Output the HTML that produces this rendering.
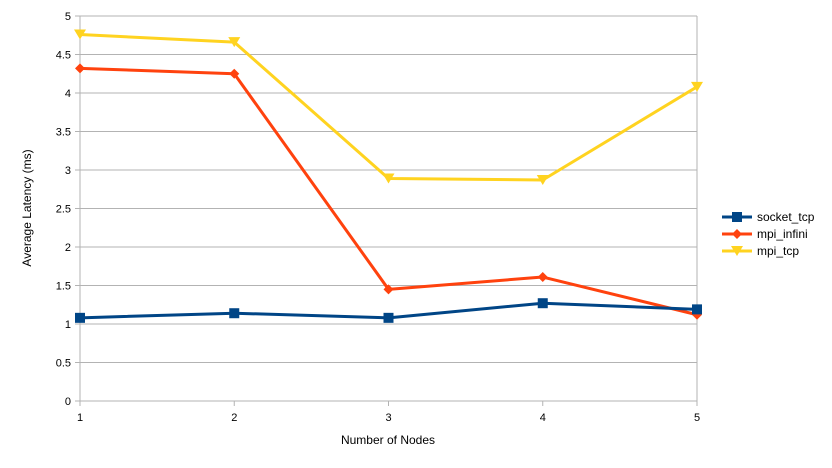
<!DOCTYPE html>
<html><head><meta charset="utf-8"><style>
body{margin:0;background:#fff}
svg{display:block;font-family:"Liberation Sans",sans-serif}
</style></head><body>
<svg id="chart" width="832" height="468" xmlns="http://www.w3.org/2000/svg">
<g id="grid"></g><g id="axes"></g><g id="series"></g><g id="legend"></g>
<text transform="translate(31,208) rotate(-90)" text-anchor="middle" font-size="12" fill="#000">Average Latency (ms)</text>
<text x="388" y="444" text-anchor="middle" font-size="12" fill="#000">Number of Nodes</text>
</svg>
<script>
const categories=[1,2,3,4,5];
const socketTcp=[1.08,1.14,1.08,1.27,1.19];
const mpiInfini=[4.32,4.25,1.45,1.61,1.12];
const mpiTcp=[4.76,4.66,2.89,2.87,4.08];
const yTicks=[0,0.5,1,1.5,2,2.5,3,3.5,4,4.5,5];
const seriesNames=["socket_tcp","mpi_infini","mpi_tcp"];
const NS="http://www.w3.org/2000/svg";
const L=80,R=697,T=16,B=401;
const x=i=>L+(R-L)*i/(categories.length-1);
const y=v=>B-(B-T)*v/5;
function mk(tag,attrs,parent){const e=document.createElementNS(NS,tag);for(const k in attrs)e.setAttribute(k,attrs[k]);parent.appendChild(e);return e;}
const grid=document.getElementById('grid'),axes=document.getElementById('axes'),ser=document.getElementById('series'),leg=document.getElementById('legend');
yTicks.forEach(t=>{
 const l=mk('line',{x1:L-5,x2:R,y1:y(t),y2:y(t),stroke:'#b3b3b3','stroke-width':1},grid);
 
 
 const tx=mk('text',{x:L-9,y:y(t)+4,'text-anchor':'end','font-size':11,fill:'#000'},axes);
 tx.textContent=String(t);
 
 
});
mk('line',{x1:L,x2:L,y1:T,y2:B+5,stroke:'#b3b3b3'},axes);
mk('line',{x1:R,x2:R,y1:T,y2:B+5,stroke:'#b3b3b3'},axes);
categories.forEach((c,i)=>{
 mk('line',{x1:x(i),x2:x(i),y1:B,y2:B+5,stroke:'#b3b3b3'},axes);
 const tx=mk('text',{x:x(i),y:B+20,'text-anchor':'middle','font-size':11,fill:'#000'},axes);
 tx.textContent=String(c);
 
 
});
function marker(kind,cx,cy,color,parent){
 let e;
 if(kind==='sq')e=mk('rect',{x:cx-5,y:cy-5,width:10,height:10,fill:color},parent);
 else if(kind==='dia')e=mk('polygon',{points:`${cx},${cy-5} ${cx+5},${cy} ${cx},${cy+5} ${cx-5},${cy}`,fill:color},parent);
 else e=mk('polygon',{points:`${cx-6},${cy-5} ${cx+6},${cy-5} ${cx},${cy+5}`,fill:color},parent);
 return e;
}
const defs=[[mpiTcp,'#ffd320','tri','mpi-tcp'],[mpiInfini,'#ff420e','dia','mpi-infini'],[socketTcp,'#004586','sq','socket-tcp']];
defs.forEach(([data,color,kind,name])=>{
 const p=mk('polyline',{points:data.map((v,i)=>x(i)+','+y(v)).join(' '),fill:'none',stroke:color,'stroke-width':3,'stroke-linejoin':'round'},ser);
 
 
 data.forEach((v,i)=>{
  const m=marker(kind,x(i),y(v),color,ser);
  
  
 });
});
const legendDefs=[['socket_tcp','#004586','sq',217],['mpi_infini','#ff420e','dia',234],['mpi_tcp','#ffd320','tri',251]];
legendDefs.forEach(([label,color,kind,ly])=>{
 const g=mk('g',{},leg);
 
 
 mk('line',{x1:722,x2:752,y1:ly,y2:ly,stroke:color,'stroke-width':3},g);
 marker(kind,737,ly,color,g);
 const t=mk('text',{x:757,y:ly+4,'font-size':12,fill:'#000'},g);
 t.textContent=label;
});
</script>
</body></html>
